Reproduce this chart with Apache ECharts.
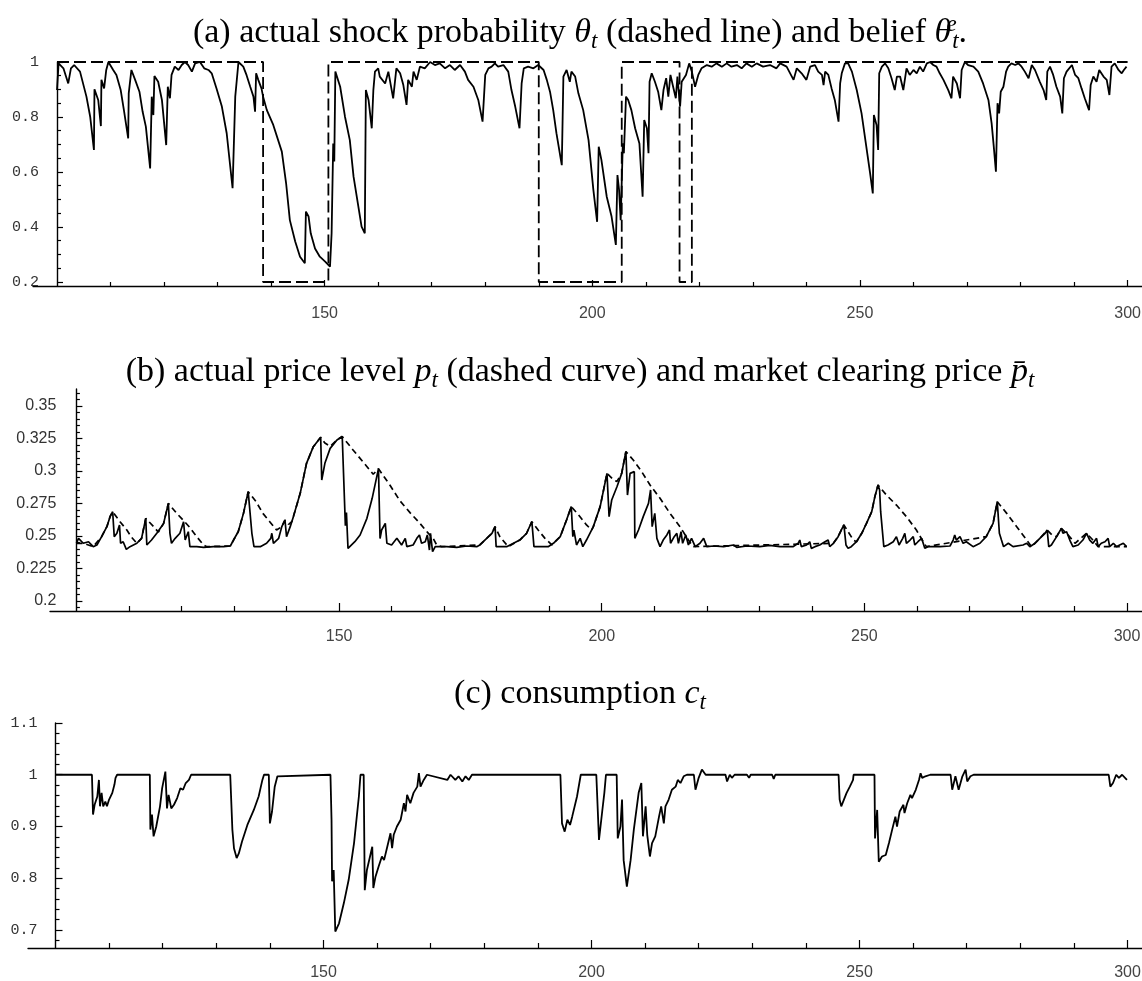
<!DOCTYPE html>
<html><head><meta charset="utf-8">
<script src="https://cdn.jsdelivr.net/npm/echarts@6/dist/echarts.min.js"></script>
<style>html,body{margin:0;padding:0;background:#fff}#c{width:1142px;height:981px}</style>
</head><body><div id="c"></div>
<script>
// ---------- data ----------
// panel (a): belief theta^e_t
const beliefT = [100.0,100.3,101.2,102.1,102.6,103.2,104.3,105.5,106.2,106.9,107.0,107.7,108.2,108.3,108.8,109.2,109.6,110.5,111.1,111.9,112.5,113.3,113.4,113.9,114.6,115.4,116.0,116.6,117.4,117.7,118.0,118.2,118.9,119.6,120.4,120.7,121.1,121.4,122.0,122.7,123.3,123.9,124.5,125.2,125.8,126.7,127.5,128.3,128.9,129.8,130.8,131.7,132.8,133.3,133.9,134.8,135.4,136.1,136.7,137.0,137.2,137.6,138.2,138.5,139.2,140.4,142.0,142.8,143.5,144.5,145.4,146.3,146.5,147.0,147.4,148.2,149.1,150.1,151.0,151.3,151.6,151.8,152.0,152.9,153.8,154.7,155.4,156.3,156.9,157.5,157.7,158.2,158.8,159.1,159.4,160.0,
 160.3,161.3,161.9,162.8,163.4,164.1,164.7,165.3,165.6,166.3,166.6,167.2,167.8,168.7,169.7,170.6,171.5,172.5,173.4,174.3,175.3,176.2,176.8,177.8,178.7,179.5,180.0,180.6,181.2,181.8,182.4,183.4,184.3,184.9,185.6,186.4,186.8,187.2,188.0,189.0,189.9,190.9,191.5,192.1,192.7,193.3,194.3,194.6,195.2,195.8,196.1,196.8,197.4,198.3,199.3,200.2,200.9,201.2,201.7,202.7,203.6,204.4,204.7,205.0,205.3,205.7,205.9,206.3,206.7,207.3,208.0,208.8,209.4,209.7,210.2,210.5,210.7,211.1,211.7,212.3,212.9,213.3,213.8,214.2,214.6,215.1,215.6,215.9,216.4,216.7,217.0,217.5,218.1,218.6,219.2,219.8,220.4,221.4,222.3,223.2,224.2,225.1,226.0,227.0,227.9,228.8,229.8,230.7,231.9,233.2,234.4,
 235.1,236.3,237.6,238.2,239.1,240.0,240.7,241.6,242.2,242.9,243.2,243.5,244.1,244.7,245.3,246.0,246.3,246.6,247.2,247.8,248.5,249.4,250.3,251.1,251.9,252.4,252.6,253.1,253.4,253.6,254.1,254.7,255.3,255.9,256.5,256.9,257.5,258.1,258.7,259.3,260.0,260.6,261.2,261.8,262.5,263.1,263.7,264.3,264.9,265.6,266.5,267.1,267.4,268.1,268.7,269.0,269.6,270.2,271.2,272.1,273.0,274.0,274.6,275.0,275.4,275.7,276.0,276.3,276.8,277.3,277.7,278.3,279.0,279.6,280.2,280.8,281.5,282.1,282.7,283.6,284.3,284.8,285.0,285.5,286.1,286.7,287.4,287.8,288.1,288.6,289.6,290.2,290.8,291.4,292.0,292.8,293.1,293.6,294.2,294.7,295.5,296.1,296.6,297.0,297.6,298.3,298.9,299.3,299.8];
const beliefV = [0.898,0.995,0.977,0.922,0.977,0.989,0.965,0.874,0.801,0.680,0.901,0.862,0.767,0.935,0.904,0.971,1.0,0.971,0.953,0.898,0.825,0.722,0.886,0.971,0.935,0.892,0.819,0.765,0.613,0.874,0.807,0.949,0.928,0.862,0.698,0.910,0.868,0.953,0.983,0.971,0.989,1.0,0.989,0.965,0.995,1.0,0.977,0.971,0.959,0.904,0.838,0.741,0.541,0.874,1.0,0.983,0.953,0.910,0.874,0.819,0.959,0.935,0.904,0.874,0.825,0.771,0.674,0.559,0.425,0.347,0.292,0.268,0.456,0.438,0.377,0.322,0.292,0.274,0.256,0.377,0.704,0.638,0.965,0.910,0.801,0.716,0.583,0.474,0.401,0.377,0.898,0.862,0.759,0.898,0.965,0.977,
 0.947,0.922,0.965,0.868,0.977,0.959,0.916,0.844,0.935,0.910,0.965,0.935,0.983,0.977,1.0,0.989,0.995,0.977,0.989,0.971,0.989,0.965,0.935,0.910,0.862,0.783,0.953,0.977,0.983,0.995,0.983,0.989,0.965,0.898,0.838,0.759,0.922,0.977,0.983,0.977,0.989,0.971,0.935,0.892,0.825,0.741,0.625,0.947,0.971,0.928,0.965,0.947,0.886,0.825,0.716,0.535,0.419,0.692,0.644,0.510,0.438,0.335,0.589,0.535,0.425,0.704,0.668,0.874,0.862,0.825,0.759,0.704,0.510,0.789,0.759,0.668,0.928,0.959,0.928,0.892,0.825,0.898,0.941,0.874,0.953,0.910,0.868,0.947,0.838,0.928,0.922,0.953,0.995,0.965,0.910,0.953,0.977,0.989,0.983,0.995,0.983,0.995,0.983,0.989,0.977,0.995,0.983,0.995,0.983,0.989,0.977,
 0.995,0.983,0.935,0.977,0.959,0.935,0.983,0.989,0.965,0.953,0.916,0.965,0.953,0.904,0.862,0.783,0.922,0.959,0.995,0.995,0.965,0.898,0.813,0.704,0.595,0.522,0.807,0.771,0.680,0.959,0.983,0.995,0.977,0.941,0.898,0.947,0.947,0.898,0.977,0.953,0.971,0.959,0.983,0.965,0.995,1.0,0.989,0.983,0.959,0.935,0.898,0.868,0.947,0.922,0.868,0.971,1.0,0.989,0.983,0.965,0.922,0.862,0.777,0.692,0.601,0.850,0.813,0.892,0.910,0.965,0.983,0.995,0.989,0.995,0.983,0.965,0.941,0.989,0.971,0.928,0.898,0.862,0.965,0.983,0.953,0.910,0.874,0.813,0.941,0.965,0.989,0.953,0.941,0.904,0.868,0.825,0.916,0.947,0.928,0.971,0.947,0.935,0.880,0.983,0.995,0.971,0.959,0.971,0.983];
// panel (a): actual shock probability theta_t (step, dashed)
const shockT = [100,138.5,138.5,150.7,150.7,190.0,190.0,205.5,205.5,216.3,216.3,218.6,218.6,300];
const shockV = [1,1,0.2,0.2,1,1,0.2,0.2,1,1,0.2,0.2,1,1];
// panel (b): market clearing price (solid)
const clearT = [100.0,100.4,101.3,102.3,103.2,103.9,104.8,105.8,106.4,106.9,107.2,107.7,108.2,108.4,108.9,109.5,110.2,111.5,112.4,113.2,113.4,114.3,115.3,116.6,117.5,117.8,118.1,118.8,119.7,120.4,120.7,121.3,121.6,122.9,124.2,126.1,128.0,129.3,129.9,130.8,131.8,132.7,133.4,133.8,135.0,136.2,137.0,137.2,137.5,138.5,139.1,139.7,140.0,140.7,141.3,142.6,143.8,145.1,146.5,146.7,147.3,148.3,149.6,150.6,151.2,151.4,151.7,153.0,154.0,155.3,156.3,157.5,157.8,158.1,158.8,159.1,160.0,161.0,
 161.9,162.6,162.9,164.1,164.8,165.3,165.7,166.4,166.8,167.2,167.4,167.8,168.3,170.5,172.4,174.3,176.2,176.8,178.1,179.1,179.7,179.9,181.9,184.4,185.7,186.7,187.1,189.8,190.8,192.1,193.3,194.2,194.5,194.7,195.2,195.9,196.4,197.1,198.4,199.7,201.0,201.4,201.9,202.9,203.8,204.6,204.9,205.4,206.2,206.3,207.0,207.9,208.9,209.3,209.6,210.1,210.5,211.1,211.7,212.4,212.9,213.1,213.8,214.3,214.6,215.1,215.4,216.0,216.5,217.1,217.8,218.7,219.4,220.0,221.3,223.2,225.1,225.7,227.6,230.1,232.0,233.9,
 236.4,237.4,237.7,238.0,239.0,239.6,239.9,240.6,241.5,242.5,243.1,243.4,244.1,245.0,245.6,246.1,246.5,246.9,247.5,248.5,249.5,250.4,251.4,252.0,252.6,252.9,253.1,253.3,253.7,254.5,255.5,256.1,256.6,257.3,257.7,258.0,258.7,259.3,259.6,260.2,260.9,261.5,262.1,264.4,266.3,266.9,267.2,267.5,268.2,268.8,269.4,270.7,272.0,273.2,274.5,275.3,275.7,276.1,276.5,277.4,278.3,280.2,280.9,281.5,282.5,283.4,284.4,284.8,285.1,285.6,286.6,287.5,287.8,288.5,289.1,289.7,290.7,291.6,292.3,292.6,292.9,293.5,294.2,294.5,295.1,295.8,296.4,296.7,297.4,298.0,298.6,299.3,299.9];
const clearV = [0.2444,0.2482,0.2444,0.2456,0.2418,0.2431,0.2495,0.2572,0.2649,0.2687,0.2495,0.2521,0.2585,0.2444,0.2456,0.2397,0.2418,0.2444,0.2482,0.2636,0.2431,0.2469,0.2521,0.2597,0.2751,0.2521,0.2444,0.2482,0.2521,0.2610,0.2469,0.2533,0.2418,0.2418,0.2413,0.2418,0.2418,0.2423,0.2469,0.2533,0.2674,0.2841,0.2521,0.2418,0.2418,0.2444,0.2482,0.2521,0.2444,0.2482,0.2572,0.2623,0.2495,0.2572,0.2649,0.2828,0.3059,0.3187,0.3260,0.2931,0.3059,0.3174,0.3238,0.3265,0.2580,0.2680,0.2405,0.2456,0.2508,0.2636,0.2790,0.3018,0.2480,0.2546,0.2597,0.2444,0.2431,0.2482,
 0.2431,0.2482,0.2418,0.2431,0.2482,0.2508,0.2444,0.2456,0.2508,0.2392,0.2521,0.2379,0.2418,0.2418,0.2413,0.2423,0.2418,0.2431,0.2482,0.2521,0.2572,0.2418,0.2418,0.2469,0.2521,0.2610,0.2418,0.2418,0.2444,0.2495,0.2623,0.2726,0.2495,0.2546,0.2431,0.2482,0.2418,0.2469,0.2572,0.2726,0.2982,0.2649,0.2777,0.2879,0.2982,0.3149,0.2815,0.2982,0.2995,0.2482,0.2546,0.2649,0.2751,0.2854,0.2572,0.2674,0.2482,0.2418,0.2469,0.2508,0.2546,0.2444,0.2495,0.2521,0.2444,0.2533,0.2444,0.2508,0.2431,0.2482,0.2418,0.2444,0.2482,0.2418,0.2423,0.2418,0.2431,0.2413,0.2423,0.2418,0.2428,0.2418,
 0.2418,0.2444,0.2469,0.2418,0.2431,0.2456,0.2405,0.2418,0.2431,0.2456,0.2469,0.2418,0.2444,0.2495,0.2546,0.2585,0.2431,0.2405,0.2418,0.2456,0.2521,0.2597,0.2687,0.2803,0.2892,0.2854,0.2687,0.2674,0.2418,0.2431,0.2456,0.2495,0.2431,0.2482,0.2521,0.2444,0.2469,0.2495,0.2431,0.2456,0.2482,0.2405,0.2418,0.2418,0.2423,0.2469,0.2508,0.2469,0.2495,0.2444,0.2456,0.2418,0.2444,0.2495,0.2597,0.2764,0.2521,0.2469,0.2418,0.2444,0.2418,0.2431,0.2444,0.2418,0.2444,0.2482,0.2521,0.2546,0.2418,0.2431,0.2495,0.2559,0.2521,0.2533,0.2469,0.2418,0.2431,0.2469,0.2521,0.2533,0.2469,0.2444,0.2482,0.2418,0.2444,0.2456,0.2482,0.2418,0.2444,0.2418,0.2431,0.2444,0.2418];
// panel (b): actual price level (dashed)
const priceT = [100.0,101.3,103.2,104.8,105.8,106.4,106.9,108.3,109.6,110.5,111.5,112.4,113.2,114.7,115.6,116.6,117.5,119.1,120.0,121.6,122.9,124.2,124.8,129.3,130.8,131.8,132.7,134.2,135.5,136.8,138.1,139.1,139.7,140.4,141.0,141.3,142.6,143.8,145.1,146.5,147.3,148.3,149.6,150.6,152.7,154.6,156.5,157.5,159.7,161.6,163.5,165.4,167.0,167.9,168.6,169.5,176.8,178.1,179.1,179.7,180.6,182.2,184.4,185.7,186.7,187.9,189.2,190.5,190.8,192.1,193.3,194.2,195.6,197.1,198.1,198.4,199.7,201.0,202.3,202.9,203.8,204.6,206.0,207.6,209.2,211.1,213.0,214.9,216.5,217.4,244.1,245.0,245.6,246.1,246.9,247.9,248.5,249.5,250.4,251.4,252.0,252.6,254.2,256.1,258.0,259.9,261.2,261.8,273.2,274.5,275.3,277.1,279.0,280.9,281.8,283.4,284.8,285.8,286.6,287.5,288.8,290.1,292.3,293.5,294.5,300.0];
const priceV = [0.2444,0.2444,0.2418,0.2495,0.2572,0.2649,0.2687,0.2610,0.2546,0.2490,0.2444,0.2482,0.2636,0.2572,0.2530,0.2597,0.2751,0.2674,0.2636,0.2565,0.2495,0.2431,0.2418,0.2423,0.2533,0.2674,0.2841,0.2764,0.2674,0.2610,0.2546,0.2572,0.2623,0.2590,0.2610,0.2649,0.2828,0.3059,0.3187,0.3260,0.3215,0.3190,0.3238,0.3265,0.3160,0.3068,0.2975,0.3018,0.2890,0.2770,0.2680,0.2597,0.2520,0.2482,0.2430,0.2418,0.2431,0.2482,0.2521,0.2572,0.2495,0.2418,0.2469,0.2521,0.2610,0.2546,0.2482,0.2431,0.2444,0.2495,0.2623,0.2726,0.2662,0.2585,0.2546,0.2572,0.2726,0.2982,0.2930,0.2920,0.2982,0.3149,0.3085,0.2995,0.2892,0.2790,0.2674,0.2572,0.2469,0.2418,0.2444,0.2495,0.2546,0.2585,0.2533,0.2469,0.2456,0.2521,0.2597,0.2687,0.2803,0.2892,0.2815,0.2738,0.2649,0.2546,0.2456,0.2418,0.2495,0.2597,0.2764,0.2674,0.2572,0.2469,0.2418,0.2482,0.2546,0.2505,0.2495,0.2559,0.2508,0.2444,0.2521,0.2469,0.2418,0.2418];
// panel (c): consumption
const consT = [100.0,106.8,107.0,107.3,107.8,108.1,108.3,108.6,108.9,109.3,109.6,110.0,110.6,111.0,111.2,111.5,117.6,117.7,118.0,118.3,118.8,119.5,119.9,120.5,120.8,121.1,121.6,122.1,122.7,123.3,123.8,124.3,124.9,125.3,132.6,133.0,133.3,133.8,134.2,134.8,135.8,137.0,137.9,138.6,138.9,139.8,140.0,140.4,140.9,141.4,141.7,151.3,151.5,151.6,151.9,152.2,152.9,153.8,154.7,155.7,156.6,156.9,157.5,157.7,158.1,159.1,159.3,159.7,160.3,160.9,
 161.3,161.9,162.5,162.8,163.1,163.7,164.4,165.0,165.3,165.6,166.2,166.8,167.5,167.8,168.1,168.7,169.3,173.1,173.7,174.6,175.2,175.9,176.5,177.1,177.7,194.2,194.5,195.0,195.5,196.0,196.4,197.3,198.0,200.9,201.4,202.0,202.4,202.7,204.7,204.9,205.4,205.7,206.0,206.6,207.3,207.9,208.8,209.3,209.6,210.1,210.4,210.9,211.3,211.9,212.6,213.0,213.5,213.8,214.4,215.0,215.7,216.1,216.6,217.2,217.8,219.1,219.4,220.0,220.6,221.3,225.0,225.3,225.8,226.2,226.7,229.0,229.4,229.7,233.7,234.0,234.3,
 246.1,246.3,246.6,247.1,247.6,248.2,248.8,248.9,252.8,252.9,253.3,253.6,254.2,254.9,255.5,256.1,256.7,257.0,257.5,258.2,258.4,258.9,259.5,259.8,260.5,261.1,261.4,261.7,262.3,263.2,267.0,267.3,267.9,268.5,269.2,269.8,270.1,270.7,271.3,296.5,296.8,297.3,297.9,298.4,299.0,299.9];
const consV = [1,1,0.923,0.942,0.958,0.990,0.939,0.965,0.939,0.948,0.939,0.952,0.965,0.981,0.994,1,1,0.894,0.923,0.881,0.900,0.939,0.974,1.006,0.935,0.961,0.935,0.942,0.955,0.974,0.971,0.984,0.990,1,1,0.894,0.858,0.839,0.848,0.871,0.903,0.932,0.958,0.990,1,1,0.906,0.929,0.977,0.997,1,1,0.913,0.794,0.816,0.697,0.713,0.752,0.797,0.868,0.958,1,1,0.777,0.816,0.861,0.781,0.803,0.823,0.842,
 0.835,0.861,0.887,0.858,0.884,0.900,0.913,0.945,0.929,0.961,0.945,0.965,0.977,1.003,0.977,0.990,1,0.990,1,0.990,0.997,0.987,0.997,0.990,1,1,0.906,0.890,0.913,0.903,0.919,0.958,1,1,0.874,0.929,0.965,1,1,0.877,0.900,0.952,0.835,0.784,0.835,0.894,0.965,0.984,0.881,0.939,0.884,0.842,0.868,0.881,0.919,0.939,0.906,0.939,0.952,0.971,0.977,0.990,0.984,0.997,1,1,0.971,0.994,1.01,1,1,0.987,1,0.994,1,1,0.994,1,1,0.992,1,
 1,0.952,0.939,0.952,0.965,0.977,0.990,1,1,0.877,0.932,0.832,0.842,0.845,0.868,0.894,0.919,0.900,0.929,0.942,0.926,0.945,0.961,0.955,0.971,0.990,1.003,0.994,0.997,1,1,0.971,0.997,0.971,0.997,1.01,0.987,0.997,1,1,0.977,0.984,1,0.994,1,0.990];
// tick values
const xMajor = [150,200,250,300];
const xMinor = [110,120,130,140,160,170,180,190,210,220,230,240,260,270,280,290];
const aMajor = [0.2,0.4,0.6,0.8,1];
const aMinor = [0.25,0.3,0.35,0.45,0.5,0.55,0.65,0.7,0.75,0.85,0.9,0.95];
const bMajor = [0.2,0.225,0.25,0.275,0.3,0.325,0.35];
const bMinor = [0.195,0.205,0.21,0.215,0.22,0.23,0.235,0.24,0.245,0.255,0.26,0.265,0.27,0.28,0.285,0.29,0.295,0.305,0.31,0.315,0.32,0.33,0.335,0.34,0.345,0.355,0.36];
const cMajor = [0.7,0.8,0.9,1,1.1];
const cMinor = [0.68,0.72,0.74,0.76,0.78,0.82,0.84,0.86,0.88,0.92,0.94,0.96,0.98,1.02,1.04,1.06,1.08];
const titleA = '{r|(a) actual shock probability }{i|θ}{s|t}{r| (dashed line) and belief }{i|θ}{p|e}{s|t}{r|.}';
const titleB = '{r|(b) actual price level }{i|p}{s|t}{r| (dashed curve) and market clearing price }{i|p\u0304}{s|t}';
const titleC = '{r|(c) consumption }{i|c}{s|t}';

// ---------- chart ----------
const zip = (T, V) => T.map((t, i) => [t, V[i]]);
const serif = 'Liberation Serif';
const TS = 34;
const base = {fontFamily: serif, fontWeight: 'normal', color: '#000'};
const rich = {
  r: {...base, fontSize: TS, lineHeight: 40},
  i: {...base, fontStyle: 'italic', fontSize: TS, lineHeight: 40},
  s: {...base, fontStyle: 'italic', fontSize: 23, lineHeight: 23, verticalAlign: 'bottom'},
  p: {...base, fontStyle: 'italic', fontSize: 23, lineHeight: 23, verticalAlign: 'top', width: 1}
};
function mkTitle(text, top) {
  return {text, left: 580, top, textAlign: 'center', padding: 0,
    textStyle: {rich, fontFamily: serif, fontWeight: 'normal', fontSize: TS, color: '#000'}};
}
function xAxes(g, min, max, majLen, minLen, margin) {
  return [
    {type: 'value', gridIndex: g, min, max, position: 'bottom',
     axisLine: {onZero: false, lineStyle: {color: '#000', width: 1.4}},
     axisTick: {inside: true, length: majLen, lineStyle: {color: '#000', width: 1.2}, customValues: xMajor},
     axisLabel: {customValues: xMajor, margin, fontFamily: 'Liberation Sans', fontSize: 16, color: '#444'},
     splitLine: {show: false}},
    {type: 'value', gridIndex: g, min, max, position: 'bottom',
     axisLine: {show: false},
     axisTick: {inside: true, length: minLen, lineStyle: {color: '#000', width: 1.2}, customValues: xMinor},
     axisLabel: {show: false}, splitLine: {show: false}}
  ];
}
function yAxes(g, min, max, major, minor, offset, majLen, minLen, font, size, margin) {
  return [
    {type: 'value', gridIndex: g, min, max, position: 'left', offset,
     axisLine: {onZero: false, lineStyle: {color: '#000', width: 1.4}},
     axisTick: {inside: true, length: majLen, lineStyle: {color: '#000', width: 1.2}, customValues: major},
     axisLabel: {customValues: major, margin, fontFamily: font, fontSize: size, color: '#333'},
     splitLine: {show: false}},
    {type: 'value', gridIndex: g, min, max, position: 'left', offset,
     axisLine: {show: false},
     axisTick: {inside: true, length: minLen, lineStyle: {color: '#000', width: 1.2}, customValues: minor},
     axisLabel: {show: false}, splitLine: {show: false}}
  ];
}
function line(x, y, data, width, dash) {
  return {type: 'line', xAxisIndex: x, yAxisIndex: y, data, symbol: 'none', silent: true, animation: false,
    lineStyle: {color: '#000', width, type: dash || 'solid'}};
}
const chart = echarts.init(document.getElementById('c'), null, {renderer: 'canvas', width: 1142, height: 981});
chart.setOption({
  animation: false,
  backgroundColor: '#fff',
  title: [mkTitle(titleA, 13), mkTitle(titleB, 352), mkTitle(titleC, 674)],
  grid: [
    {left: 33, right: 0, top: 62, height: 224, outerBoundsMode: 'none'},
    {left: 50, right: 0, top: 389, height: 222, outerBoundsMode: 'none'},
    {left: 28, right: 0, top: 723, height: 225, outerBoundsMode: 'none'}
  ],
  xAxis: [
    ...xAxes(0, 95.517, 302.69, 6, 4, 20),
    ...xAxes(1, 94.97, 302.85, 8, 5, 18),
    ...xAxes(2, 94.87, 302.71, 8, 5, 17)
  ],
  yAxis: [
    ...yAxes(0, 0.18545, 1.0, aMajor, aMinor, -24, 6, 4, 'Liberation Mono', 15, 18),
    ...yAxes(1, 0.19231, 0.36308, bMajor, bMinor, -26.4, 6, 3.5, 'Liberation Sans', 16, 20),
    ...yAxes(2, 0.6652, 1.1, cMajor, cMinor, -27.5, 7, 4, 'Liberation Mono', 15, 18)
  ],
  series: [
    line(0, 0, zip(shockT, shockV), 1.8, [12, 5]),
    line(0, 0, zip(beliefT, beliefV), 1.8),
    line(2, 2, zip(clearT, clearV), 1.7),
    line(2, 2, zip(priceT, priceV), 1.7, [6, 4]),
    line(4, 4, zip(consT, consV), 1.8)
  ]
});
</script>
</body></html>
